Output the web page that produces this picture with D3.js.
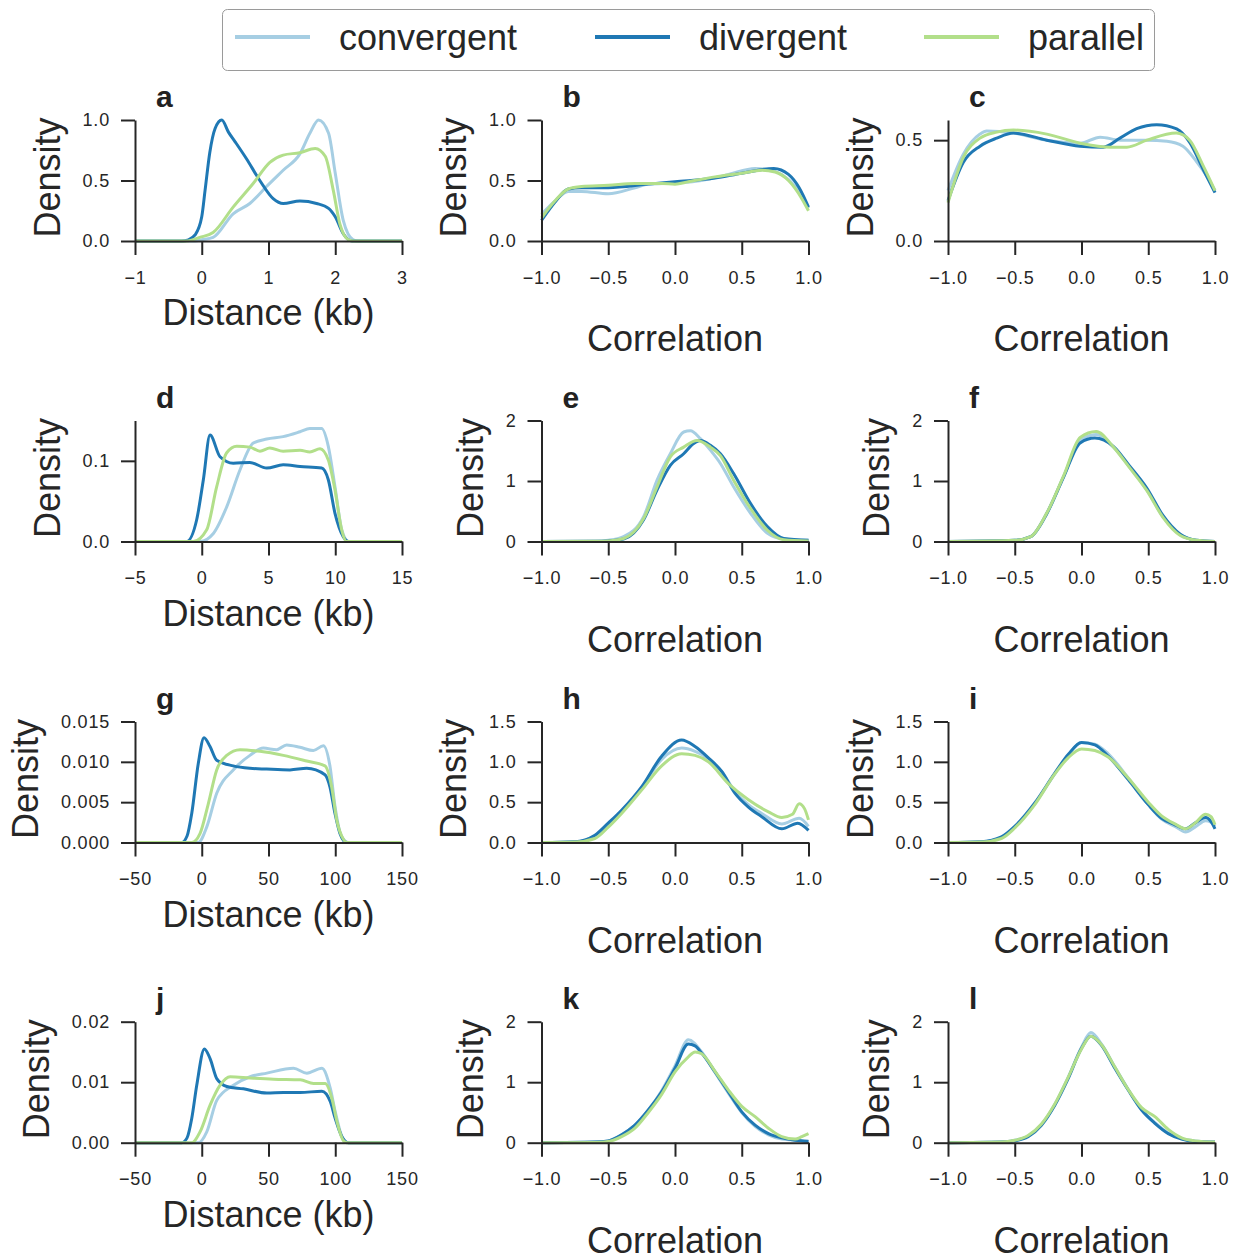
<!DOCTYPE html>
<html>
<head>
<meta charset="utf-8">
<script src="https://cdn.jsdelivr.net/npm/d3@7"></script>
<style>
  body { margin: 0; background: #fff; }
  svg { display: block; }
  text { font-family: "Liberation Sans", Arial, Helvetica, sans-serif; }
</style>
</head>
<body>
<div class="container"></div>
<script>
// series names / colours
var seriesNames = ['convergent', 'divergent', 'parallel'];
var seriesColors = ['#a6cee3', '#1f78b4', '#b2df8a'];

// panel a : distance, 1 kb
var aConv = [[-1,0],[-0.1,0],[0.0,0.01],[0.17,0.03],[0.47,0.225],[0.72,0.31],[0.97,0.45],[1.22,0.585],[1.47,0.72],[1.62,0.89],[1.75,1.0],[1.9,0.89],[2.0,0.56],[2.12,0.17],[2.27,0.01],[2.35,0],[3,0]];
var aDiv = [[-1,0],[-0.3,0],[-0.2,0.01],[-0.1,0.05],[0,0.2],[0.05,0.42],[0.12,0.73],[0.2,0.93],[0.3,1.0],[0.4,0.9],[0.5,0.82],[0.67,0.68],[0.87,0.5],[1.07,0.35],[1.22,0.31],[1.47,0.33],[1.72,0.31],[1.9,0.27],[2.0,0.2],[2.12,0.06],[2.25,0],[3,0]];
var aPar = [[-1,0],[-0.23,0],[-0.03,0.03],[0.17,0.07],[0.47,0.28],[0.77,0.475],[1.02,0.65],[1.22,0.71],[1.47,0.73],[1.7,0.765],[1.85,0.7],[1.97,0.42],[2.07,0.14],[2.2,0.01],[2.28,0],[3,0]];

// panel b, c : correlation
var bConv = [[-1,0.22],[-0.9,0.33],[-0.8,0.41],[-0.7,0.41],[-0.5,0.39],[-0.3,0.44],[-0.2,0.47],[0,0.48],[0.2,0.5],[0.4,0.55],[0.6,0.6],[0.7,0.59],[0.8,0.55],[0.9,0.45],[1,0.27]];
var bDiv = [[-1,0.17],[-0.9,0.32],[-0.8,0.43],[-0.7,0.44],[-0.5,0.44],[-0.2,0.47],[0,0.49],[0.3,0.52],[0.5,0.56],[0.74,0.6],[0.85,0.55],[0.93,0.44],[1,0.28]];
var bPar = [[-1,0.19],[-0.9,0.33],[-0.8,0.43],[-0.7,0.45],[-0.5,0.46],[-0.3,0.475],[-0.1,0.475],[0,0.47],[0.1,0.49],[0.3,0.53],[0.5,0.56],[0.65,0.585],[0.75,0.57],[0.85,0.5],[0.95,0.35],[1,0.25]];

var cConv = [[-1,0.25],[-0.885,0.43],[-0.76,0.53],[-0.71,0.545],[-0.51,0.535],[-0.26,0.5],[-0.01,0.485],[0.14,0.515],[0.29,0.5],[0.49,0.5],[0.64,0.495],[0.76,0.47],[0.86,0.395],[0.94,0.32],[1,0.25]];
var cDiv = [[-1,0.2],[-0.885,0.39],[-0.76,0.47],[-0.635,0.51],[-0.51,0.535],[-0.26,0.5],[-0.01,0.47],[0.163,0.465],[0.288,0.51],[0.413,0.557],[0.563,0.577],[0.713,0.556],[0.813,0.486],[0.913,0.353],[1,0.24]];
var cPar = [[-1,0.19],[-0.885,0.415],[-0.76,0.51],[-0.635,0.54],[-0.51,0.55],[-0.26,0.53],[-0.01,0.485],[0.22,0.465],[0.34,0.465],[0.49,0.5],[0.71,0.535],[0.81,0.5],[0.91,0.375],[1,0.25]];

// panel d : distance, 10 kb
var dConv = [[-5,0],[-0.13,0],[0.87,0.01],[1.87,0.043],[2.87,0.089],[3.86,0.122],[4.87,0.127],[6.1,0.13],[7.36,0.136],[8.1,0.14],[8.98,0.14],[9.48,0.118],[9.98,0.068],[10.48,0.015],[11,0],[15,0]];
var dDiv = [[-5,0],[-1.13,0],[-0.38,0.027],[0.12,0.0765],[0.62,0.132],[1.37,0.105],[2.36,0.097],[3.6,0.098],[4.87,0.091],[6.1,0.095],[7.36,0.093],[8.98,0.091],[9.48,0.0765],[9.98,0.035],[10.6,0.006],[11,0],[15,0]];
var dPar = [[-5,0],[-0.63,0],[0.37,0.0145],[1.12,0.068],[1.87,0.11],[2.62,0.118],[3.6,0.117],[4.36,0.112],[5.1,0.116],[6.1,0.112],[7.36,0.113],[8.1,0.111],[8.86,0.115],[9.48,0.101],[9.98,0.064],[10.48,0.0145],[10.85,0],[15,0]];

// panel e, f
var eConv = [[-1,0],[-0.6,0.005],[-0.5,0.02],[-0.385,0.08],[-0.235,0.41],[-0.135,1.01],[-0.035,1.45],[0.065,1.81],[0.115,1.83],[0.19,1.7],[0.265,1.51],[0.34,1.29],[0.44,0.9],[0.565,0.47],[0.69,0.14],[0.815,0.04],[1,0.02]];
var eDiv = [[-1,0],[-0.6,0.003],[-0.5,0.01],[-0.385,0.04],[-0.235,0.36],[-0.135,0.85],[-0.035,1.26],[0.065,1.45],[0.14,1.62],[0.19,1.67],[0.265,1.59],[0.34,1.45],[0.44,1.12],[0.565,0.63],[0.69,0.25],[0.815,0.05],[1,0.02]];
var ePar = [[-1,0],[-0.6,0.003],[-0.5,0.01],[-0.385,0.05],[-0.235,0.38],[-0.135,0.9],[-0.035,1.4],[0.065,1.56],[0.165,1.67],[0.265,1.56],[0.34,1.42],[0.44,1.01],[0.565,0.55],[0.69,0.19],[0.815,0.03],[1,0.01]];

var fConv = [[-1,0],[-0.5,0.02],[-0.38,0.08],[-0.26,0.47],[-0.135,1.07],[-0.01,1.67],[0.11,1.77],[0.24,1.56],[0.36,1.23],[0.49,0.85],[0.61,0.41],[0.74,0.11],[0.86,0.02],[1,0]];
var fDiv = [[-1,0],[-0.5,0.02],[-0.38,0.08],[-0.26,0.46],[-0.135,1.06],[-0.01,1.63],[0.1,1.71],[0.24,1.57],[0.36,1.25],[0.49,0.88],[0.61,0.43],[0.74,0.12],[0.86,0.02],[1,0]];
var fPar = [[-1,0],[-0.5,0.02],[-0.38,0.08],[-0.26,0.47],[-0.135,1.08],[-0.01,1.72],[0.11,1.82],[0.24,1.56],[0.36,1.22],[0.49,0.84],[0.61,0.4],[0.74,0.1],[0.86,0.02],[1,0]];

// panel g : distance, 100 kb
var gConv = [[-50,0],[-2.6,0],[3.7,0.0019],[11.2,0.0061],[23.6,0.009],[36.1,0.0108],[46.1,0.0117],[56.1,0.0115],[63.6,0.0121],[73.6,0.0118],[83.6,0.0114],[91.1,0.012],[96,0.0095],[99.8,0.0045],[104.8,0.0007],[110,0],[150,0]];
var gDiv = [[-50,0],[-15,0],[-11,0.0008],[-7.5,0.0036],[-2.6,0.0098],[1.7,0.013],[6.2,0.0119],[11.2,0.0102],[23.6,0.0095],[36.1,0.0092],[48.6,0.0091],[66.1,0.009],[78.6,0.0092],[92.3,0.0084],[96,0.0069],[99.8,0.0036],[103.6,0.0011],[108.6,0],[150,0]];
var gPar = [[-50,0],[-7.5,0],[-1.3,0.0011],[4.9,0.0048],[11.2,0.009],[18.7,0.0108],[28.7,0.0115],[43.6,0.0113],[61.1,0.0108],[78.6,0.0101],[92.3,0.0095],[97.3,0.0069],[101.1,0.0028],[106.1,0.0004],[108.6,0],[150,0]];

// panel h, i
var hConv = [[-1,0],[-0.75,0.01],[-0.6,0.08],[-0.5,0.22],[-0.4,0.39],[-0.25,0.68],[-0.1,1.03],[0.05,1.17],[0.15,1.13],[0.25,1.04],[0.35,0.88],[0.45,0.63],[0.55,0.47],[0.65,0.36],[0.8,0.23],[0.93,0.3],[1,0.2]];
var hDiv = [[-1,0],[-0.75,0.01],[-0.6,0.09],[-0.5,0.24],[-0.4,0.4],[-0.25,0.69],[-0.1,1.07],[0.05,1.27],[0.15,1.19],[0.25,1.05],[0.35,0.88],[0.45,0.61],[0.55,0.44],[0.65,0.32],[0.8,0.17],[0.92,0.24],[1,0.15]];
var hPar = [[-1,0],[-0.75,0.005],[-0.6,0.05],[-0.5,0.19],[-0.4,0.36],[-0.25,0.65],[-0.1,0.95],[0.05,1.1],[0.15,1.08],[0.25,1.0],[0.4,0.73],[0.55,0.53],[0.7,0.38],[0.8,0.31],[0.88,0.35],[0.93,0.48],[0.97,0.42],[1,0.28]];

var iConv = [[-1,0],[-0.75,0.01],[-0.6,0.06],[-0.5,0.19],[-0.35,0.48],[-0.2,0.85],[-0.1,1.08],[0,1.24],[0.1,1.22],[0.2,1.1],[0.35,0.8],[0.5,0.47],[0.6,0.29],[0.7,0.2],[0.78,0.13],[0.85,0.19],[0.93,0.27],[0.97,0.25],[1,0.2]];
var iDiv = [[-1,0],[-0.75,0.01],[-0.6,0.07],[-0.5,0.2],[-0.35,0.49],[-0.2,0.86],[-0.1,1.09],[0,1.24],[0.1,1.21],[0.2,1.07],[0.35,0.78],[0.5,0.47],[0.6,0.3],[0.7,0.22],[0.78,0.17],[0.85,0.24],[0.93,0.31],[0.97,0.26],[1,0.17]];
var iPar = [[-1,0],[-0.75,0.005],[-0.6,0.05],[-0.5,0.18],[-0.35,0.47],[-0.2,0.85],[-0.1,1.05],[0,1.16],[0.1,1.14],[0.2,1.06],[0.35,0.8],[0.5,0.5],[0.6,0.33],[0.7,0.23],[0.78,0.17],[0.85,0.24],[0.93,0.35],[0.97,0.32],[1,0.22]];

// panel j : distance, 100 kb
var jConv = [[-50,0],[-2.5,0],[3.75,0.0018],[11.25,0.007],[23.75,0.0095],[36.25,0.0109],[48.75,0.0115],[68.75,0.0123],[78.75,0.0115],[90,0.0123],[96.25,0.009],[100,0.0051],[105,0.001],[108.75,0],[150,0]];
var jDiv = [[-50,0],[-15,0],[-11,0.0008],[-7.5,0.004],[-3.75,0.0095],[2,0.0155],[6.25,0.0139],[11.25,0.0106],[18.75,0.0093],[31.25,0.0089],[48.75,0.0082],[61.25,0.0083],[73.75,0.0083],[90,0.0085],[96.25,0.0068],[100,0.004],[105,0.001],[110,0],[150,0]];
var jPar = [[-50,0],[-7.5,0],[-1.25,0.0018],[6.25,0.0062],[13.75,0.0095],[21.25,0.0109],[36.25,0.0107],[53.75,0.0105],[73.75,0.0104],[83.75,0.0098],[92.5,0.0098],[97.5,0.0073],[101.25,0.0035],[106.25,0.0003],[108.75,0],[150,0]];

// panel k, l
var kConv = [[-1,0],[-0.6,0.01],[-0.5,0.03],[-0.4,0.13],[-0.3,0.29],[-0.2,0.54],[-0.1,0.86],[0,1.27],[0.1,1.7],[0.2,1.5],[0.3,1.16],[0.4,0.82],[0.5,0.5],[0.6,0.27],[0.7,0.13],[0.8,0.06],[0.9,0.04],[1,0.03]];
var kDiv = [[-1,0],[-0.6,0.01],[-0.5,0.03],[-0.4,0.13],[-0.3,0.29],[-0.2,0.54],[-0.1,0.84],[0,1.23],[0.1,1.63],[0.15,1.6],[0.2,1.48],[0.3,1.17],[0.4,0.84],[0.5,0.51],[0.6,0.29],[0.7,0.15],[0.8,0.08],[0.9,0.04],[1,0.02]];
var kPar = [[-1,0],[-0.6,0.005],[-0.5,0.02],[-0.4,0.1],[-0.3,0.24],[-0.2,0.5],[-0.1,0.8],[0,1.17],[0.1,1.42],[0.15,1.5],[0.2,1.47],[0.3,1.18],[0.4,0.87],[0.5,0.6],[0.6,0.43],[0.7,0.24],[0.8,0.1],[0.9,0.06],[0.95,0.1],[1,0.15]];

var lConv = [[-1,0],[-0.6,0.01],[-0.5,0.04],[-0.4,0.11],[-0.3,0.3],[-0.2,0.63],[-0.1,1.08],[0,1.58],[0.07,1.82],[0.15,1.63],[0.25,1.25],[0.35,0.88],[0.45,0.55],[0.55,0.33],[0.65,0.16],[0.75,0.07],[0.85,0.03],[1,0.01]];
var lDiv = [[-1,0],[-0.6,0.01],[-0.5,0.03],[-0.4,0.1],[-0.3,0.29],[-0.2,0.62],[-0.1,1.06],[0,1.56],[0.07,1.76],[0.15,1.61],[0.25,1.23],[0.35,0.87],[0.45,0.54],[0.55,0.32],[0.65,0.15],[0.75,0.06],[0.85,0.02],[1,0.01]];
var lPar = [[-1,0],[-0.6,0.01],[-0.5,0.04],[-0.4,0.12],[-0.3,0.31],[-0.2,0.64],[-0.1,1.08],[0,1.55],[0.07,1.76],[0.15,1.62],[0.25,1.25],[0.35,0.88],[0.45,0.58],[0.55,0.43],[0.65,0.22],[0.75,0.08],[0.85,0.03],[1,0.01]];

// tick values
var corrTicks = [-1, -0.5, 0, 0.5, 1];
var dist1Ticks = [-1, 0, 1, 2, 3];
var dist10Ticks = [-5, 0, 5, 10, 15];
var dist100Ticks = [-50, 0, 50, 100, 150];
var yTicksHalf = [0, 0.5, 1];
var yTicksC = [0, 0.5];
var yTicksD = [0, 0.1];
var yTicksTwo = [0, 1, 2];
var yTicksG = [0, 0.005, 0.01, 0.015];
var yTicksH = [0, 0.5, 1, 1.5];
var yTicksJ = [0, 0.01, 0.02];

var distLabel = 'Distance (kb)';
var corrLabel = 'Correlation';

var panels = [
  {letter: 'a', series: [aConv, aDiv, aPar], xDomain: [-1, 3], xTicks: dist1Ticks, xFmt: 'd', yDomain: [0, 1], yTicks: yTicksHalf, yFmt: '.1f', xLabel: distLabel},
  {letter: 'b', series: [bConv, bDiv, bPar], xDomain: [-1, 1], xTicks: corrTicks, xFmt: '.1f', yDomain: [0, 1], yTicks: yTicksHalf, yFmt: '.1f', xLabel: corrLabel},
  {letter: 'c', series: [cConv, cDiv, cPar], xDomain: [-1, 1], xTicks: corrTicks, xFmt: '.1f', yDomain: [0, 0.6], yTicks: yTicksC, yFmt: '.1f', xLabel: corrLabel},
  {letter: 'd', series: [dConv, dDiv, dPar], xDomain: [-5, 15], xTicks: dist10Ticks, xFmt: 'd', yDomain: [0, 0.15], yTicks: yTicksD, yFmt: '.1f', xLabel: distLabel},
  {letter: 'e', series: [eConv, eDiv, ePar], xDomain: [-1, 1], xTicks: corrTicks, xFmt: '.1f', yDomain: [0, 2], yTicks: yTicksTwo, yFmt: 'd', xLabel: corrLabel},
  {letter: 'f', series: [fConv, fDiv, fPar], xDomain: [-1, 1], xTicks: corrTicks, xFmt: '.1f', yDomain: [0, 2], yTicks: yTicksTwo, yFmt: 'd', xLabel: corrLabel},
  {letter: 'g', series: [gConv, gDiv, gPar], xDomain: [-50, 150], xTicks: dist100Ticks, xFmt: 'd', yDomain: [0, 0.015], yTicks: yTicksG, yFmt: '.3f', xLabel: distLabel},
  {letter: 'h', series: [hConv, hDiv, hPar], xDomain: [-1, 1], xTicks: corrTicks, xFmt: '.1f', yDomain: [0, 1.5], yTicks: yTicksH, yFmt: '.1f', xLabel: corrLabel},
  {letter: 'i', series: [iConv, iDiv, iPar], xDomain: [-1, 1], xTicks: corrTicks, xFmt: '.1f', yDomain: [0, 1.5], yTicks: yTicksH, yFmt: '.1f', xLabel: corrLabel},
  {letter: 'j', series: [jConv, jDiv, jPar], xDomain: [-50, 150], xTicks: dist100Ticks, xFmt: 'd', yDomain: [0, 0.02], yTicks: yTicksJ, yFmt: '.2f', xLabel: distLabel},
  {letter: 'k', series: [kConv, kDiv, kPar], xDomain: [-1, 1], xTicks: corrTicks, xFmt: '.1f', yDomain: [0, 2], yTicks: yTicksTwo, yFmt: 'd', xLabel: corrLabel},
  {letter: 'l', series: [lConv, lDiv, lPar], xDomain: [-1, 1], xTicks: corrTicks, xFmt: '.1f', yDomain: [0, 2], yTicks: yTicksTwo, yFmt: 'd', xLabel: corrLabel}
];

/* layout */
var W = 1237, H = 1255;
var colX = [135, 541.5, 948];
var rowY = [120, 420.5, 721.5, 1021.7];
var pw = 267, ph = 121;
var ink = '#262626';

var svg = d3.select('.container')
  .append('svg')
  .attr('width', W)
  .attr('height', H);

panels.forEach(function(p, i) {
  var left = colX[i % 3];
  var top = rowY[Math.floor(i / 3)];
  var g = svg.append('g').attr('transform', 'translate(' + left + ',' + top + ')');

  var x = d3.scaleLinear().domain(p.xDomain).range([0, pw]);
  var y = d3.scaleLinear().domain(p.yDomain).range([ph, 0]);

  var line = d3.line()
    .x(function(d) { return x(d[0]); })
    .y(function(d) { return y(d[1]); })
    .curve(d3.curveMonotoneX);

  // density curves
  p.series.forEach(function(s, k) {
    g.append('path')
      .datum(s)
      .attr('d', line)
      .attr('fill', 'none')
      .attr('stroke', seriesColors[k])
      .attr('stroke-width', 3)
      .attr('stroke-linejoin', 'round');
  });

  // axes
  var xAxis = d3.axisBottom(x)
    .tickValues(p.xTicks)
    .tickFormat(d3.format(p.xFmt))
    .tickSize(14)
    .tickSizeOuter(0)
    .tickPadding(16);

  var yAxis = d3.axisLeft(y)
    .tickValues(p.yTicks)
    .tickFormat(d3.format(p.yFmt))
    .tickSize(14)
    .tickSizeOuter(0)
    .tickPadding(11);

  var gx = g.append('g')
    .attr('transform', 'translate(0,' + ph + ')')
    .call(xAxis);
  var gy = g.append('g').call(yAxis);

  [gx, gy].forEach(function(ax) {
    ax.attr('font-size', 18)
      .attr('font-family', '"Liberation Sans", Arial, sans-serif')
      .style('color', ink);
    ax.select('.domain').attr('stroke-width', 2);
    ax.selectAll('.tick line').attr('stroke-width', 2);
    ax.selectAll('.tick text').style('letter-spacing', '0.8px');
  });

  // y label placed left of widest tick label
  var minX = 0;
  gy.selectAll('.tick text').each(function() {
    var b = this.getBBox();
    if (b.x < minX) minX = b.x;
  });
  g.append('text')
    .attr('transform', 'translate(' + (minX - 23) + ',' + (ph / 2 - 3) + ') rotate(-90)')
    .attr('text-anchor', 'middle')
    .attr('font-size', 36)
    .attr('fill', ink)
    .text('Density');

  // x label
  g.append('text')
    .attr('x', pw / 2)
    .attr('y', ph + (p.xLabel === distLabel ? 84 : 110))
    .attr('text-anchor', 'middle')
    .attr('font-size', 36)
    .attr('fill', ink)
    .text(p.xLabel);

  // panel letter
  g.append('text')
    .attr('x', 21)
    .attr('y', -13)
    .attr('font-size', 30)
    .attr('font-weight', 'bold')
    .attr('fill', '#222')
    .text(p.letter);
});

/* legend */
var legend = svg.append('g');
legend.append('rect')
  .attr('x', 222.5).attr('y', 9.5)
  .attr('width', 932).attr('height', 61)
  .attr('rx', 5)
  .attr('fill', '#fff')
  .attr('stroke', '#9a9a9a')
  .attr('stroke-width', 1);

var legendX = [235, 595, 924];
seriesNames.forEach(function(name, k) {
  legend.append('line')
    .attr('x1', legendX[k]).attr('x2', legendX[k] + 75)
    .attr('y1', 37).attr('y2', 37)
    .attr('stroke', seriesColors[k])
    .attr('stroke-width', 4);
  legend.append('text')
    .attr('x', legendX[k] + 104)
    .attr('y', 50)
    .attr('font-size', 36)
    .attr('fill', ink)
    .text(name);
});
</script>
</body>
</html>
